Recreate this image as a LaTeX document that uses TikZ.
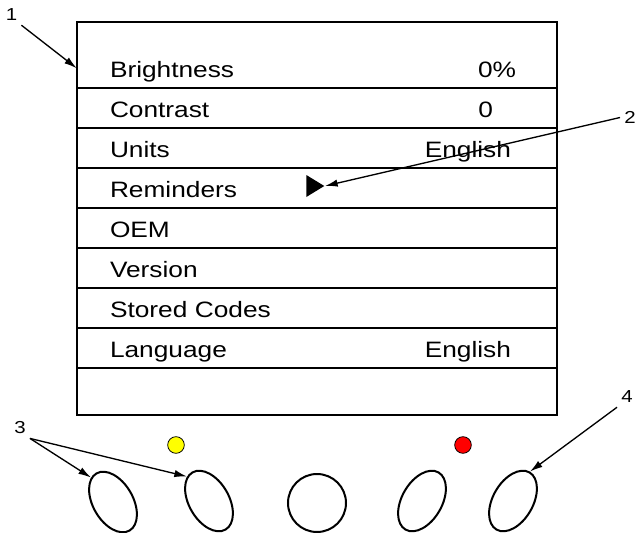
\documentclass[tikz,border=0pt]{standalone}
\usepackage{fontspec}
\setmainfont{Liberation Sans}[FakeStretch=1.18]
\usepackage{xcolor}
\definecolor{lampyellow}{HTML}{FFFF00}
\definecolor{lampred}{HTML}{FF0000}
\usepackage{tikz}
\usetikzlibrary{positioning,shapes.geometric,arrows.meta}

\begin{document}
\begin{tikzpicture}[
  x=0.75pt, y=-0.75pt,
  screen/.style={draw, line width=1.5pt, minimum width=360pt, minimum height=294.75pt, inner sep=0pt},
  row/.style={text width=310.5pt, inner xsep=24.75pt, inner ysep=0pt, minimum height=29.6pt,
              text height=17.5pt, text depth=3.3pt, align=left, font=\fontsize{16.7}{20}\selectfont},
  val/.style={inner sep=0pt, text height=17.5pt, text depth=3.3pt, font=\fontsize{16.7}{20}\selectfont},
  rule/.style={line width=1.4pt},
  btn/.style={draw, ellipse, line width=1.5pt, inner sep=0pt, minimum width=30pt, minimum height=49.5pt},
  lamp/.style={draw, circle, line width=0.6pt, inner sep=0pt, minimum size=12.5pt},
  num/.style={inner sep=3pt, font=\fontsize{13}{15}\selectfont},
  arr/.style={-{Latex[length=9.5pt, width=5.5pt]}, line width=1pt}
]
  \useasboundingbox (0,0) rectangle (637,533);

  % display
  \node[screen] (Sc) at (317,218.5) {};
  \node[row] (Br) at (317,68.25) {Brightness};
  \node[row, below=0pt of Br] (Co) {Contrast};
  \node[row, below=0pt of Co] (Un) {Units};
  \node[row, below=0pt of Un] (Re) {Reminders};
  \node[row, below=0pt of Re] (OE) {OEM};
  \node[row, below=0pt of OE] (Ve) {Version};
  \node[row, below=0pt of Ve] (St) {Stored Codes};
  \node[row, below=0pt of St] (La) {Language};

  \node[val, left=30.75pt of Br.east] (BrV) {0\%};
  \node[val, left=48pt of Co.east]    (CoV) {0};
  \node[val, left=34.5pt of Un.east]  (UnV) {English};
  \node[val, left=34.5pt of La.east]  (LaV) {English};

  \draw[rule] (Br.south west) -- (Br.south east);
  \draw[rule] (Co.south west) -- (Co.south east);
  \draw[rule] (Un.south west) -- (Un.south east);
  \draw[rule] (Re.south west) -- (Re.south east);
  \draw[rule] (OE.south west) -- (OE.south east);
  \draw[rule] (Ve.south west) -- (Ve.south east);
  \draw[rule] (St.south west) -- (St.south east);
  \draw[rule] (La.south west) -- (La.south east);

  \node[isosceles triangle, isosceles triangle stretches, fill=black, inner sep=0pt,
        minimum width=16.5pt, minimum height=13.5pt, anchor=apex] (Cu) at (325,186) {};

  % lamps and buttons
  \node[lamp, fill=lampyellow] (Ly) at (176,445) {};
  \node[lamp, fill=lampred]    (Lr) at (463,445) {};

  \node[btn, rotate=30]  (B1) at (113,502) {};
  \node[btn, rotate=30]  (B2) at (209,501) {};
  \node[btn, circle, minimum size=43.5pt] (B3) at (317,503) {};
  \node[btn, rotate=-30] (B4) at (422,501) {};
  \node[btn, rotate=-30] (B5) at (513,501) {};

  % callouts
  \node[num] (N1) at (11.5,15) {1};
  \node[num] (N2) at (630,117.5) {2};
  \node[num] (N3) at (20,428) {3};
  \node[num] (N4) at (627,397) {4};

  \draw[arr] (N1.south east) -- (Br.west);
  \draw[arr] (N2.west) -- (Cu.apex);
  \draw[arr] (N3.south east) -- (B1.102);
  \draw[arr] (N3.south east) -- (B2.102);
  \draw[arr] (N4.south west) -- (B5.north);
\end{tikzpicture}
\end{document}
